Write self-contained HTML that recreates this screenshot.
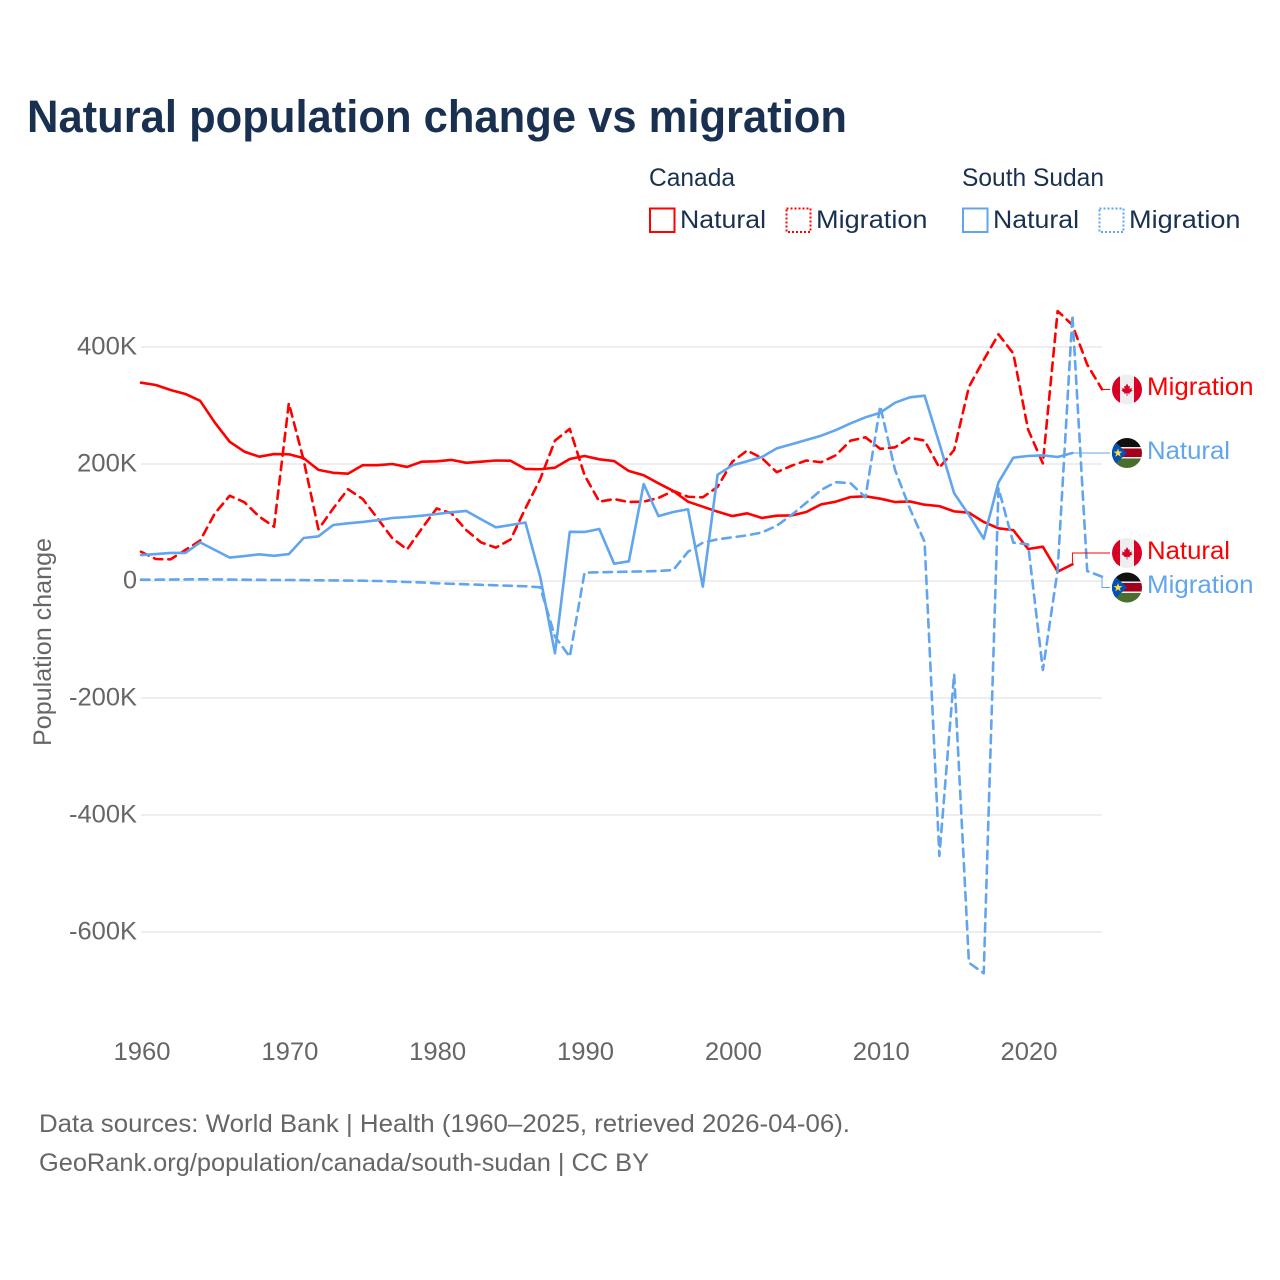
<!DOCTYPE html>
<html lang="en">
<head>
<meta charset="utf-8">
<title>Natural population change vs migration</title>
<style>
html,body{margin:0;padding:0;background:#fff;width:1280px;height:1280px;overflow:hidden}
svg{display:block}
text{font-family:"Liberation Sans",sans-serif}
</style>
</head>
<body>
<svg id="chart" xmlns="http://www.w3.org/2000/svg" width="1280" height="1280" viewBox="0 0 1280 1280">
  <defs>
    <clipPath id="flag-clip"><circle cx="0" cy="0" r="15"/></clipPath>
    <g id="flag-ca">
      <g clip-path="url(#flag-clip)">
        <rect x="-15" y="-15" width="30" height="30" fill="#eeeeee"/>
        <rect x="-15" y="-15" width="8" height="30" fill="#d80027"/>
        <rect x="7" y="-15" width="8" height="30" fill="#d80027"/>
        <polygon fill="#d80027" points="0,-6 1.6,-3 3,-3.6 2.4,-0.6 5,-1.6 4.4,0.2 5.6,1 2.6,3.2 2.8,4.2 0.4,3.8 0.4,6.5 -0.4,6.5 -0.4,3.8 -2.8,4.2 -2.6,3.2 -5.6,1 -4.4,0.2 -5,-1.6 -2.4,-0.6 -3,-3.6 -1.6,-3"/>
      </g>
    </g>
    <g id="flag-ss">
      <g clip-path="url(#flag-clip)">
        <rect x="-15" y="-15" width="30" height="10" fill="#111111"/>
        <rect x="-15" y="-6" width="30" height="2" fill="#eeeeee"/>
        <rect x="-15" y="-4.5" width="30" height="9" fill="#a2001d"/>
        <rect x="-15" y="4" width="30" height="2" fill="#eeeeee"/>
        <rect x="-15" y="5.5" width="30" height="10" fill="#496e2d"/>
        <polygon points="-15,-15 -15,-14 -0.5,0 -15,14 -15,15 -16,15 -16,-15" fill="#0052b4"/>
        <polygon points="-15,-14 0,0 -15,14" fill="#0052b4"/>
        <polygon fill="#ffda44" points="-9,-4.6 -7.9,-1.5 -4.6,-1.4 -7.2,0.6 -6.3,3.8 -9,1.9 -11.7,3.8 -10.8,0.6 -13.4,-1.4 -10.1,-1.5"/>
      </g>
    </g>
  </defs>

  <text x="27" y="132" font-size="45" font-weight="700" fill="#1a3050" textLength="820" lengthAdjust="spacingAndGlyphs">Natural population change vs migration</text>

  <g font-size="25" fill="#1a3050">
    <text x="649" y="186" textLength="86" lengthAdjust="spacingAndGlyphs">Canada</text>
    <text x="962" y="186" textLength="142" lengthAdjust="spacingAndGlyphs">South Sudan</text>
    <g>
      <rect x="650" y="208.500" width="24.500" height="23.500" fill="none" stroke="#ff0000" stroke-width="2"/>
      <text x="680" y="228" textLength="86" lengthAdjust="spacingAndGlyphs">Natural</text>
    </g>
    <g>
      <rect x="786.500" y="208.500" width="24" height="23.500" fill="none" stroke="#ff0000" stroke-width="2" stroke-dasharray="2 2"/>
      <text x="816" y="228" textLength="111.500" lengthAdjust="spacingAndGlyphs">Migration</text>
    </g>
    <g>
      <rect x="963" y="208.500" width="24.500" height="23.500" fill="none" stroke="#60a5ee" stroke-width="2"/>
      <text x="993" y="228" textLength="86" lengthAdjust="spacingAndGlyphs">Natural</text>
    </g>
    <g>
      <rect x="1099.500" y="208.500" width="24" height="23.500" fill="none" stroke="#60a5ee" stroke-width="2" stroke-dasharray="2 2"/>
      <text x="1129" y="228" textLength="111.500" lengthAdjust="spacingAndGlyphs">Migration</text>
    </g>
  </g>

  <g id="grid"></g>
  <g id="y-axis"></g>
  <g id="x-axis"></g>
  <text transform="translate(51,642) rotate(-90)" text-anchor="middle" font-size="25" fill="#666666" textLength="208" lengthAdjust="spacingAndGlyphs">Population change</text>
  <g id="series"></g>
  <g id="leaders"></g>

  <use href="#flag-ca" x="1127" y="389.500"/>
  <use href="#flag-ss" x="1127" y="453"/>
  <use href="#flag-ca" x="1127" y="553"/>
  <use href="#flag-ss" x="1127" y="587.500"/>

  <g font-size="25">
    <text x="1147" y="395" fill="#ff0000" textLength="106.500" lengthAdjust="spacingAndGlyphs">Migration</text>
    <text x="1147" y="459" fill="#60a5ee" textLength="83" lengthAdjust="spacingAndGlyphs">Natural</text>
    <text x="1147" y="559" fill="#ff0000" textLength="83" lengthAdjust="spacingAndGlyphs">Natural</text>
    <text x="1147" y="593" fill="#60a5ee" textLength="106.500" lengthAdjust="spacingAndGlyphs">Migration</text>
  </g>

  <g font-size="25" fill="#666666">
    <text x="39" y="1132" textLength="811" lengthAdjust="spacingAndGlyphs">Data sources: World Bank | Health (1960–2025, retrieved 2026-04-06).</text>
    <text x="39" y="1171" textLength="610" lengthAdjust="spacingAndGlyphs">GeoRank.org/population/canada/south-sudan | CC BY</text>
  </g>
</svg>

<script>
// Values are in thousands of people, one per year starting at 1960.
const startYear = 1960;
const yTicks = [400, 200, 0, -200, -400, -600];
const yTickLabels = ["400K", "200K", "0", "-200K", "-400K", "-600K"];
const xTicks = [1960, 1970, 1980, 1990, 2000, 2010, 2020];

const canadaNatural = [
  339,335,326.5,319.7,308,270.6,238,221,212.5,217,
  216.6,210,190,185,183.4,198,198,200,195,204,
  204.6,207,202,204,206,205.6,191.5,191,193.7,208.5,
  213.7,208,205,188,180.7,167,154,135.6,127,118.5,
  111,115.7,107.7,111.6,112,118,131,135.6,143.6,144.8,
  140.7,135,136,130.4,128,119,116.7,100.9,90,87,
  54.7,58.6,16,28.5
];
const canadaMigration = [
  50,37.6,37,53,69,115.7,145.8,134.5,110,92.8,
  303.8,206.8,88.4,124,157,140,107,73,54,90,
  124,115.7,87,66,57,71,124,174,240,260,
  181,135.6,140,135,135.6,142,154,144,143,161,
  204,223,210,186,197,206,203,215,240,245.6,
  226,228.5,245,240,193.7,224,332,378,421.7,389,
  259,201,461.5,437.6,370,327.7
];
const southSudanNatural = [
  44.4,46,48,48,66,53,40,42.7,45.6,43,
  46,73.5,76.4,95.7,98.6,101,104,107.7,109.4,111.6,
  114.5,117.4,119.7,105.5,91.8,95.7,100,7.4,-123.6,84,
  83.8,88.9,29.6,33.7,165.8,111,118,122.6,-9.7,181.7,
  197.8,204.6,212,226.8,233.7,241,248.4,258,269.6,279.8,
  287.7,304.8,314,316.8,235,150,112.8,72.3,168.7,210.8,
  213.7,214.9,212,218.8
];
const southSudanMigration = [
  2.2,2.3,2.5,2.7,3,2.7,2.5,2.2,2,1.7,
  1.7,1.5,1.2,1,0.7,0.5,0,-0.7,-1.7,-2.5,
  -3.9,-4.7,-5.6,-6.6,-7.4,-8.2,-9,-10.8,-95,-129.4,
  14.2,15,15.4,16,16.5,17.1,18.8,50,65.5,71.3,
  74.7,78,83,94.5,112.8,133.8,155.6,169,167,143,
  299,190,124,67,-470,-159,-652.5,-670.6,158.5,65.5,
  62.7,-152,18.8,454.7,17,7.4
];

const NS = "http://www.w3.org/2000/svg";
const RED = "#ff0000";
const BLUE = "#60a5ee";
function xScale(year) { return 141 + (year - 1960) * (1102 - 141) / 65; }
function yScale(v) { return 581 - v * 0.585; }
function make(tag, attrs, parent) {
  const el = document.createElementNS(NS, tag);
  for (const k in attrs) el.setAttribute(k, attrs[k]);
  parent.appendChild(el);
  return el;
}

const gridG = document.getElementById("grid");
const yG = document.getElementById("y-axis");
yTicks.forEach(function (t, i) {
  const line = make("line", {x1: 141, x2: 1102, y1: yScale(t), y2: yScale(t), stroke: "#e9e9e9", "stroke-width": 1.5}, gridG);
  
  
  const label = make("text", {x: 137, y: yScale(t) + 7.5, "text-anchor": "end", "font-size": 25, fill: "#666666"}, yG);
  
  
  label.setAttribute("textLength", yTickLabels[i].length === 1 ? 14 : (yTickLabels[i].length === 4 ? 60 : 68));
  label.setAttribute("lengthAdjust", "spacingAndGlyphs");
  label.textContent = yTickLabels[i];
});

const xG = document.getElementById("x-axis");
xTicks.forEach(function (t) {
  const label = make("text", {x: xScale(t) + 1, y: 1060, "text-anchor": "middle", "font-size": 25, fill: "#666666", textLength: 57, lengthAdjust: "spacingAndGlyphs"}, xG);
  
  
  label.textContent = String(t);
});

function linePath(values) {
  return values.map(function (v, i) {
    return (i ? "L" : "M") + xScale(startYear + i).toFixed(2) + " " + yScale(v).toFixed(2);
  }).join(" ");
}

const LINE_W = 2.6;
const DASH = "8.500 6";
const seriesG = document.getElementById("series");
const canadaNaturalLine = make("path", {d: linePath(canadaNatural), fill: "none", stroke: RED, "stroke-width": LINE_W, "stroke-linejoin": "round", "stroke-linecap": "round"}, seriesG);


const canadaMigrationLine = make("path", {d: linePath(canadaMigration), fill: "none", stroke: RED, "stroke-width": LINE_W, "stroke-linejoin": "round", "stroke-linecap": "round", "stroke-dasharray": DASH}, seriesG);


const southSudanNaturalLine = make("path", {d: linePath(southSudanNatural), fill: "none", stroke: BLUE, "stroke-width": LINE_W, "stroke-linejoin": "round", "stroke-linecap": "round"}, seriesG);


const southSudanMigrationLine = make("path", {d: linePath(southSudanMigration), fill: "none", stroke: BLUE, "stroke-width": LINE_W, "stroke-linejoin": "round", "stroke-linecap": "round", "stroke-dasharray": DASH}, seriesG);



function leaderPath(values, labelY) {
  const ex = xScale(startYear + values.length - 1);
  const ey = yScale(values[values.length - 1]);
  return "M" + ex.toFixed(2) + " " + ey.toFixed(2) + " L" + ex.toFixed(2) + " " + labelY + " L1110 " + labelY;
}
const leadersG = document.getElementById("leaders");
const leaderCN = make("path", {d: leaderPath(canadaNatural, 553), fill: "none", stroke: RED, "stroke-width": 1}, leadersG);


const leaderCM = make("path", {d: leaderPath(canadaMigration, 389.5), fill: "none", stroke: RED, "stroke-width": 1}, leadersG);


const leaderSN = make("path", {d: leaderPath(southSudanNatural, 453), fill: "none", stroke: BLUE, "stroke-width": 1}, leadersG);


const leaderSM = make("path", {d: leaderPath(southSudanMigration, 587.5), fill: "none", stroke: BLUE, "stroke-width": 1}, leadersG);


</script>
</body>
</html>
